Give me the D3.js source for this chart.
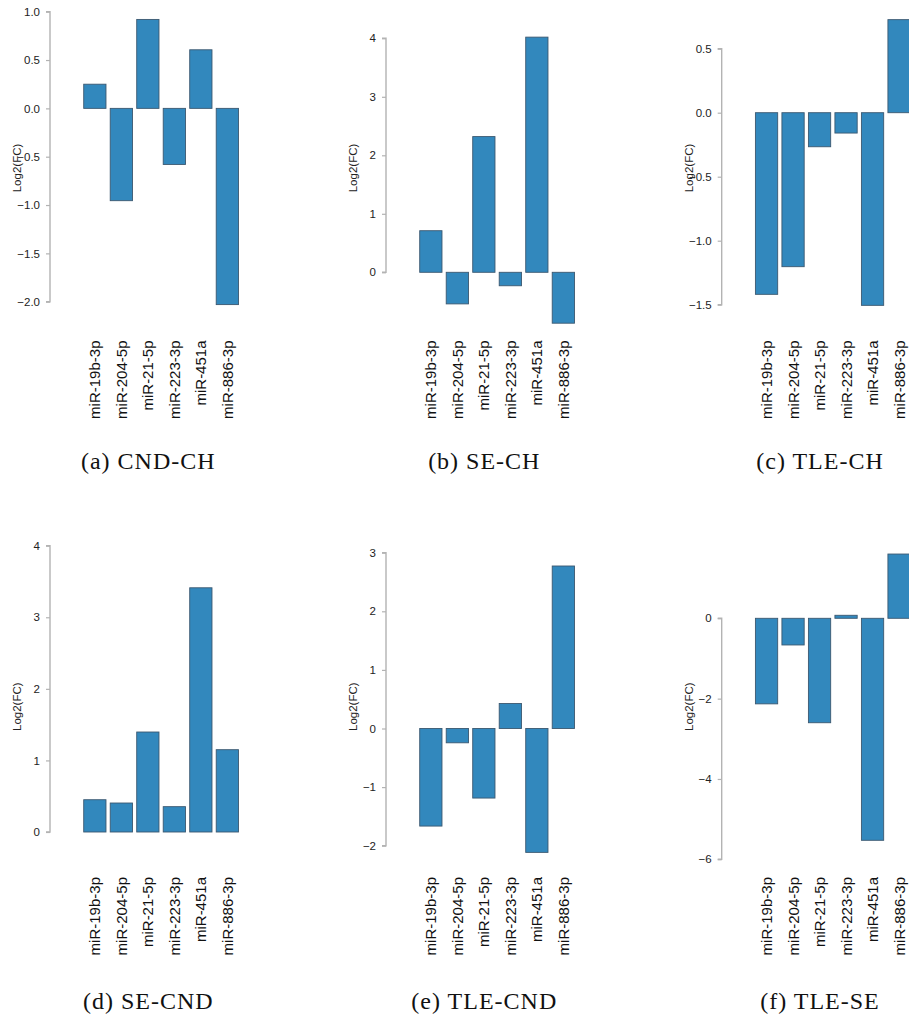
<!DOCTYPE html>
<html>
<head>
<meta charset="utf-8">
<script src="https://cdn.jsdelivr.net/npm/d3@7"></script>
<style>
  html, body { margin: 0; padding: 0; background: #fff; }
  svg { display: block; }
</style>
</head>
<body>
<svg id="chart" width="909" height="1017"></svg>
<script>
// ---------- data ----------
const categories = ["miR-19b-3p", "miR-204-5p", "miR-21-5p", "miR-223-3p", "miR-451a", "miR-886-3p"];

const cndCh  = [0.25, -0.955, 0.92, -0.58, 0.606, -2.03];
const seCh   = [0.711, -0.54, 2.32, -0.23, 4.02, -0.87];
const tleCh  = [-1.419, -1.203, -0.266, -0.159, -1.505, 0.727];
const seCnd  = [0.451, 0.405, 1.397, 0.354, 3.412, 1.15];
const tleCnd = [-1.665, -0.244, -1.187, 0.426, -2.114, 2.773];
const tleSe  = [-2.13, -0.664, -2.6, 0.075, -5.527, 1.60];

const ticksA = [-2.0, -1.5, -1.0, -0.5, 0.0, 0.5, 1.0];
const ticksB = [0, 1, 2, 3, 4];
const ticksC = [-1.5, -1.0, -0.5, 0.0, 0.5];
const ticksD = [0, 1, 2, 3, 4];
const ticksE = [-2, -1, 0, 1, 2, 3];
const ticksF = [-6, -4, -2, 0];

const tickFmtA = ".1f", tickFmtB = "d", tickFmtC = ".1f", tickFmtD = "d", tickFmtE = "d", tickFmtF = "d";

const captions = ["(a) CND-CH", "(b) SE-CH", "(c) TLE-CH", "(d) SE-CND", "(e) TLE-CND", "(f) TLE-SE"];
const yTitle = "Log2(FC)";

// ---------- layout (pixel placement of each panel) ----------
const colAxisX = [50, 386, 721.7];
const rows = [
  { labelEnd: 340.5, titleY: 168, captionY: 468.5 },
  { labelEnd: 877,   titleY: 706.7, captionY: 1009 }
];
// pixel y for the lowest and highest tick of each panel
const panelRanges = [
  [301.7, 11.7], [272.3, 38.3], [304.7, 48.7],
  [832, 545.7], [845.7, 552.7], [859.3, 618.3]
];

const seriesList = [cndCh, seCh, tleCh, seCnd, tleCnd, tleSe];
const tickList = [ticksA, ticksB, ticksC, ticksD, ticksE, ticksF];
const fmtList = [tickFmtA, tickFmtB, tickFmtC, tickFmtD, tickFmtE, tickFmtF];

const svg = d3.select("#chart");
const barFill = "#3288bd";
const barStroke = "#3b5870";
const axisColor = "#b3b3b3";

seriesList.forEach((vals, i) => {
  const col = i % 3, row = Math.floor(i / 3);
  const ax = colAxisX[col];
  const R = rows[row];
  const ticks = tickList[i];
  const y = d3.scaleLinear()
    .domain([d3.min(ticks), d3.max(ticks)])
    .range(panelRanges[i]);

  const x = d3.scaleBand()
    .domain(categories)
    .range([ax + 31.6, ax + 31.6 + 159])
    .paddingInner(0.16)
    .paddingOuter(0.08);

  const g = svg.append("g");

  // bars
  g.selectAll("rect.bar")
    .data(vals.map((v, k) => ({ cat: categories[k], v })))
    .enter().append("rect")
    .attr("class", "bar")
    .attr("x", d => x(d.cat))
    .attr("width", x.bandwidth())
    .attr("y", d => Math.min(y(d.v), y(0)))
    .attr("height", d => Math.abs(y(d.v) - y(0)))
    .attr("fill", barFill)
    .attr("stroke", barStroke)
    .attr("stroke-width", 0.9);

  // y axis
  const yAxis = d3.axisLeft(y)
    .tickValues(ticks)
    .tickSize(4)
    .tickPadding(6)
    .tickFormat(d3.format(fmtList[i]));
  const ag = g.append("g")
    .attr("transform", `translate(${ax},0)`)
    .call(yAxis);
  ag.select(".domain")
    .attr("stroke", axisColor)
    .attr("stroke-width", 1.4)
    .attr("d", `M-4,${y(d3.max(ticks))}H0V${y(d3.min(ticks))}H-4`);
  ag.selectAll(".tick line").attr("stroke", axisColor).attr("stroke-width", 1.2);
  ag.selectAll(".tick text")
    .attr("fill", "#222")
    .style("font-family", "'Liberation Sans', Arial, sans-serif")
    .style("font-size", "11.5px");

  // y title
  g.append("text")
    .attr("transform", `translate(${ax - 33},${R.titleY}) rotate(-90)`)
    .attr("text-anchor", "middle")
    .attr("dominant-baseline", "central")
    .style("font-family", "'Liberation Sans', Arial, sans-serif")
    .style("font-size", "11.5px")
    .attr("fill", "#222")
    .text(yTitle);

  // x labels (rotated)
  g.selectAll("text.xl")
    .data(categories)
    .enter().append("text")
    .attr("class", "xl")
    .attr("transform", d => `translate(${x(d) + x.bandwidth() / 2},${R.labelEnd}) rotate(-90)`)
    .attr("text-anchor", "end")
    .attr("dominant-baseline", "central")
    .style("font-family", "'Liberation Sans', Arial, sans-serif")
    .style("font-size", "15px")
    .attr("fill", "#111")
    .text(d => d);

  // caption
  g.append("text")
    .attr("x", ax + 98.3)
    .attr("y", R.captionY)
    .attr("text-anchor", "middle")
    .style("font-family", "'Liberation Serif', 'Times New Roman', serif")
    .style("font-size", "24px")
    .style("letter-spacing", "1px")
    .attr("fill", "#111")
    .text(captions[i]);
});
</script>
</body>
</html>
